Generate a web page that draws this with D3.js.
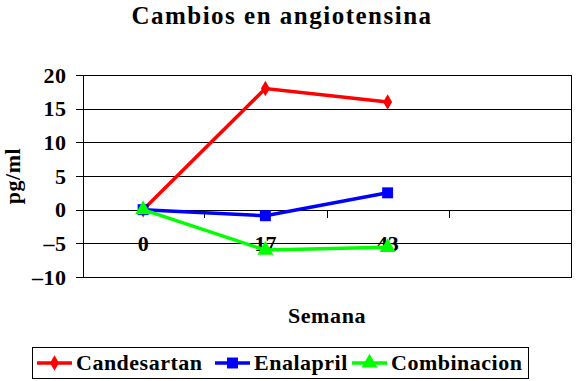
<!DOCTYPE html>
<html><head><meta charset="utf-8">
<script src="https://cdn.jsdelivr.net/npm/d3@7"></script>
<style>html,body{margin:0;padding:0;background:#fff}svg{display:block}
text{font-family:"Liberation Serif","Times New Roman",serif;font-weight:bold;fill:#000}</style>
</head><body>
<svg id="c" width="577" height="381"></svg>
<script>
const categories = ["0", "17", "43", ""];
const candesartan = [0, 18, 16];
const enalapril = [0, -0.9, 2.5];
const combinacion = [0, -6, -5.6];
const yTicks = [-10, -5, 0, 5, 10, 15, 20];
const seriesNames = ["Candesartan", "Enalapril", "Combinacion"];
const seriesColors = ["#ff0000", "#0000ff", "#00ff00"];

const svg = d3.select("#c");
const FONT = "Liberation Serif";
const L = 82, R = 571, T = 75, B = 277;
const x = d3.scaleBand().domain(categories).range([L, R]);
const y = d3.scaleLinear().domain([-10, 20]).range([B, T]);

function styleText(sel, size, ls) {
  sel.style("font-family", FONT).style("font-weight", "bold").style("font-size", size + "px")
    .style("letter-spacing", (ls || 0) + "px").attr("fill", "#000");
}

// gridlines
svg.append("g").selectAll("line").data(yTicks).join("line")
  .attr("x1", L).attr("x2", R).attr("y1", d => Math.round(y(d)) + 0.5).attr("y2", d => Math.round(y(d)) + 0.5)
  .attr("stroke", "#000").attr("stroke-width", 1).attr("shape-rendering", "crispEdges");
// right border
svg.append("line").attr("x1", R + 0.5).attr("x2", R + 0.5).attr("y1", T).attr("y2", B + 1)
  .attr("stroke", "#000").attr("shape-rendering", "crispEdges");

// y axis
const yAxis = d3.axisLeft(y).tickValues(yTicks).tickSize(7).tickPadding(9)
  .tickFormat(d => d < 0 ? "\u2013" + Math.abs(d) : d);
const gy = svg.append("g").attr("transform", `translate(${L + 0.5},0)`).call(yAxis);
gy.attr("font-family", null).attr("font-size", null);
gy.select(".domain").attr("stroke", "#000").attr("shape-rendering", "crispEdges");
gy.selectAll(".tick line").attr("stroke", "#000").attr("shape-rendering", "crispEdges");
styleText(gy.selectAll("text"), 22, 0.5);

// x axis at y=0
const x0 = Math.round(y(0)) + 0.5;
const xAxis = d3.axisBottom(x).tickSize(0).tickPadding(0);
const gx = svg.append("g").attr("transform", `translate(0,${x0})`).call(xAxis);
gx.attr("font-family", null).attr("font-size", null);
gx.select(".domain").remove();
gx.selectAll(".tick text").attr("y", 40).attr("dy", null);
styleText(gx.selectAll(".tick text"), 22, 0);
// boundary ticks
svg.append("g").selectAll("line").data(categories.slice(1)).join("line")
  .attr("x1", d => Math.round(x(d)) + 0.5).attr("x2", d => Math.round(x(d)) + 0.5)
  .attr("y1", x0).attr("y2", x0 + 7).attr("stroke", "#000").attr("shape-rendering", "crispEdges");

// series
const allSeries = [candesartan, enalapril, combinacion];
const cx = i => x(categories[i]) + x.bandwidth() / 2;
const line = d3.line().x((d, i) => cx(i)).y(d => y(d));
const symbols = [d3.symbolDiamond, d3.symbolSquare, d3.symbolTriangle];
const sizes = [70, 120, 110];
allSeries.forEach((s, k) => {
  const g = svg.append("g");
  g.append("path").datum(s).attr("d", line).attr("fill", "none")
    .attr("stroke", seriesColors[k]).attr("stroke-width", 3.5);
  g.selectAll("path.m").data(s).join("path").attr("class", "m")
    .attr("transform", (d, i) => `translate(${cx(i)},${y(d)})`)
    .attr("d", d3.symbol().type(symbols[k]).size(sizes[k])).attr("fill", seriesColors[k]);
});

// titles
styleText(svg.append("text").attr("x", 282).attr("y", 24).attr("text-anchor", "middle")
  .text("Cambios en angiotensina"), 25, 1.5);
styleText(svg.append("text").attr("x", 327).attr("y", 323).attr("text-anchor", "middle")
  .text("Semana"), 22, 0.6);
styleText(svg.append("text").attr("transform", "translate(20,176) rotate(-90)").attr("text-anchor", "middle")
  .text("pg/ml"), 22, 0.5);

// legend
svg.append("rect").attr("x", 32.5).attr("y", 347.5).attr("width", 496).attr("height", 31)
  .attr("fill", "none").attr("stroke", "#000");
const legX = [37, 215, 352];
seriesNames.forEach((n, k) => {
  const g = svg.append("g").attr("transform", `translate(${legX[k]},363)`);
  g.append("line").attr("x1", 0).attr("x2", 35).attr("stroke", seriesColors[k]).attr("stroke-width", 3.5);
  g.append("path").attr("transform", "translate(17.5,0)")
    .attr("d", d3.symbol().type(symbols[k]).size(sizes[k])).attr("fill", seriesColors[k]);
  styleText(g.append("text").attr("x", 39).attr("y", 7).text(n), 22, 0.5);
});
</script>
</body></html>
